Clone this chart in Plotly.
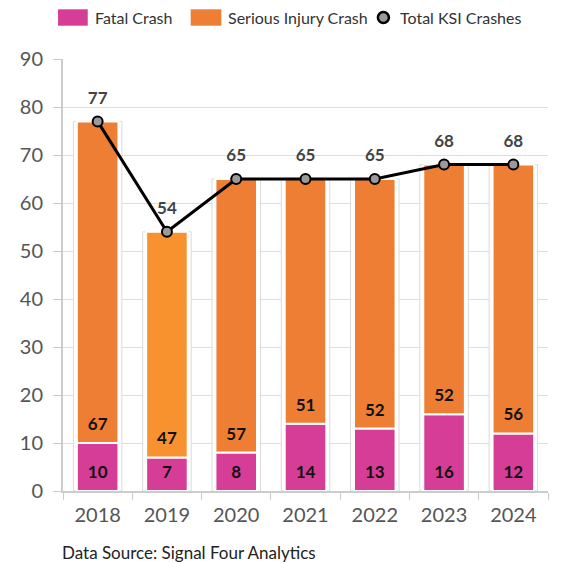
import plotly.graph_objects as go

years = ["2018", "2019", "2020", "2021", "2022", "2023", "2024"]
fatal = [10, 7, 8, 14, 13, 16, 12]
serious = [67, 47, 57, 51, 52, 52, 56]
total = [77, 54, 65, 65, 65, 68, 68]
y_ticks = [0, 10, 20, 30, 40, 50, 60, 70, 80, 90]

FATAL_C = "#D63D97"
SER_C = "#EE7E33"
SER_2019 = "#F8922F"
FONT = "Lato"
LABEL_LIFT = 3.6   # inside label centre above segment base, axis units
TOTAL_LIFT = 4.6   # total label centre above marker, axis units

ser_colors = [SER_2019 if y == "2019" else SER_C for y in years]

fig = go.Figure()

# outer white boxes
fig.add_trace(go.Bar(
    x=years, y=total, width=0.7, base=0,
    marker=dict(color="white", line=dict(color="#DADADA", width=1)),
    hoverinfo="skip", showlegend=False,
))

fig.add_trace(go.Bar(
    x=years, y=fatal, base=0, width=0.6, name="Fatal Crash",
    marker=dict(color=FATAL_C, line=dict(color="white", width=2)),
    showlegend=False,
))

fig.add_trace(go.Bar(
    x=years, y=serious, base=fatal, width=0.6, name="Serious Injury Crash",
    marker=dict(color=ser_colors, line=dict(color="white", width=2)),
    showlegend=False,
))

# inside labels
lab_font = dict(family=FONT, size=17, color="#111111", weight="bold")
fig.add_trace(go.Scatter(
    x=years, y=[LABEL_LIFT for _ in fatal], mode="text", text=fatal,
    textfont=lab_font, showlegend=False, hoverinfo="skip",
))
fig.add_trace(go.Scatter(
    x=years, y=[f + LABEL_LIFT for f in fatal], mode="text", text=serious,
    textfont=lab_font, showlegend=False, hoverinfo="skip",
))

fig.add_trace(go.Scatter(
    x=years, y=total, mode="lines+markers", name="Total KSI Crashes",
    line=dict(color="black", width=3),
    marker=dict(size=10, color="#9A9A9A", line=dict(color="black", width=2)),
    showlegend=False, cliponaxis=False,
))
fig.add_trace(go.Scatter(
    x=years, y=[t + TOTAL_LIFT for t in total], mode="text", text=total,
    textfont=dict(family=FONT, size=17, color="#444444", weight="bold"),
    showlegend=False, hoverinfo="skip", cliponaxis=False,
))

# custom legend (positions in page pixels converted to paper fractions)
shapes = []
annotations = []
ypx = 17.5
def py(p):
    return (491 - p) / 432
def px(p):
    return (p - 58) / 490

legend_items = [
    (FATAL_C, 53, 83, 88, "Fatal Crash"),
    (SER_C, 187, 218, 223, "Serious Injury Crash"),
]
for col, x0, x1, tx, label in legend_items:
    shapes.append(dict(type="rect", xref="paper", yref="paper",
                       x0=px(x0), x1=px(x1), y0=py(25.7), y1=py(9.3),
                       fillcolor=col, line=dict(width=0)))
    annotations.append(dict(x=px(tx), y=py(ypx), xref="paper", yref="paper",
                            text=label, showarrow=False, xanchor="left", yanchor="middle",
                            font=dict(family=FONT, size=16, color="#333333")))
shapes.append(dict(type="circle", xref="paper", yref="paper",
                   xsizemode="pixel", ysizemode="pixel",
                   xanchor=px(381.7), yanchor=py(ypx),
                   x0=-5.5, x1=5.5, y0=-5.5, y1=5.5,
                   fillcolor="#9A9A9A", line=dict(color="black", width=2.5)))
annotations.append(dict(x=px(396), y=py(ypx), xref="paper", yref="paper",
                        text="Total KSI Crashes", showarrow=False, xanchor="left", yanchor="middle",
                        font=dict(family=FONT, size=16, color="#333333")))
annotations.append(dict(x=px(55), y=py(552), xref="paper", yref="paper",
                        text="Data Source: Signal Four Analytics", showarrow=False,
                        xanchor="left", yanchor="middle",
                        font=dict(family=FONT, size=17, color="#222222")))

fig.update_layout(
    width=558, height=555,
    margin=dict(l=50, r=18, t=51, b=72),
    barmode="overlay",
    paper_bgcolor="white", plot_bgcolor="white",
    shapes=shapes, annotations=annotations,
    showlegend=False,
    font=dict(family=FONT),
)
fig.update_xaxes(
    type="category", tickson="boundaries", ticks="outside", ticklen=7,
    tickcolor="#CCCCCC", showgrid=False, showline=True, linecolor="#CCCCCC",
    linewidth=2, tickfont=dict(family=FONT, size=20, color="#555555"),
    ticklabelstandoff=5,
)
fig.update_yaxes(
    range=[0, 90], tickvals=y_ticks, ticks="outside", ticklen=8,
    tickcolor="#CCCCCC", gridcolor="#DDDDDD", showline=True, linecolor="#CCCCCC",
    linewidth=2, zeroline=False, ticklabelstandoff=6,
    tickfont=dict(family=FONT, size=20, color="#555555"),
)

fig.write_html("out.html")
